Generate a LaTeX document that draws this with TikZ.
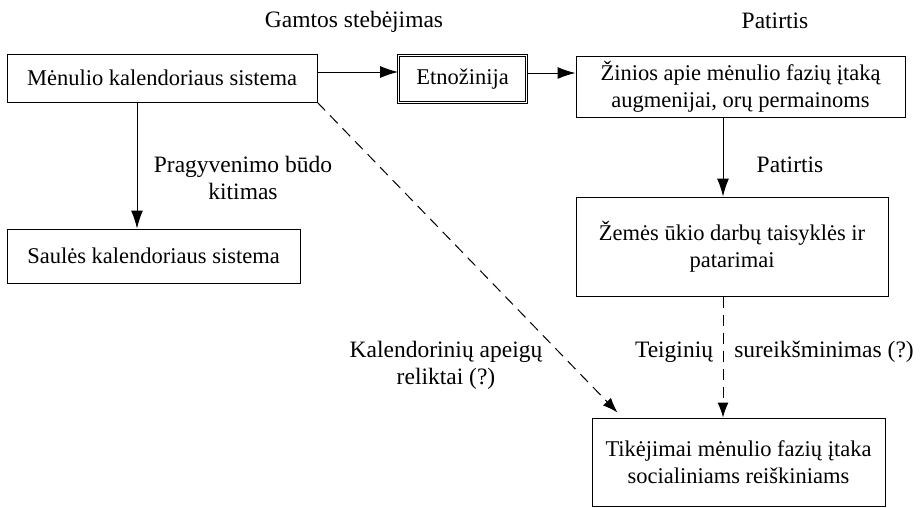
\documentclass[tikz,border=0pt]{standalone}
\usepackage{fontspec}
\setmainfont{Liberation Serif}
\usetikzlibrary{arrows.meta}

\begin{document}
\begin{tikzpicture}[x=1pt, y=-1pt]
\useasboundingbox (0,0) rectangle (924,507);

\tikzset{BoxStyle/.style = {draw, line width=1pt, align=center,
 font=\fontsize{22.5}{27}\selectfont, inner sep=0pt} }
\tikzset{LabelStyle/.style = {align=center, font=\fontsize{23.5}{27}\selectfont} }
\tikzset{EdgeStyle/.style = {line width=1pt, -{Latex[length=18pt, width=12pt]}} }
\tikzset{DashStyle/.style = {line width=1pt, dash pattern=on 11pt off 7pt,
 -{Latex[length=15pt, width=11pt]}} }

\node[BoxStyle, minimum width=310pt, minimum height=48pt] (Men) at (162, 78) {Mėnulio kalendoriaus sistema};
\node[BoxStyle, double, line width=0.8pt, double distance=1.8pt, minimum width=128pt, minimum height=47pt] (Etno) at (462.5, 79) {Etnožinija};
\node[BoxStyle, minimum width=329pt, minimum height=61pt] (Zin) at (740.5, 86.5) {Žinios apie mėnulio fazių įtaką\\augmenijai, orų permainoms};
\node[BoxStyle, minimum width=293pt, minimum height=54pt] (Saul) at (153.5, 256) {Saulės kalendoriaus sistema};
\node[BoxStyle, minimum width=312pt, minimum height=99pt] (Zem) at (732, 246.5) {Žemės ūkio darbų taisyklės ir\\patarimai};
\node[BoxStyle, minimum width=293pt, minimum height=88pt] (Tik) at (738.5, 462) {Tikėjimai mėnulio fazių įtaka\\socialiniams reiškiniams};

\node[LabelStyle, anchor=base] (L1) at (354, 27) {Gamtos stebėjimas};
\node[LabelStyle, anchor=base] (L2) at (775, 28) {Patirtis};
\node[LabelStyle, anchor=base] (L3) at (790, 172) {Patirtis};
\node[LabelStyle] (L4) at (243, 178) {Pragyvenimo būdo\\kitimas};
\node[LabelStyle] (L5) at (446, 365.5) {Kalendorinių apeigų\\reliktai (?)};
\node[LabelStyle, anchor=base] (L6) at (674, 357) {Teiginių};
\node[LabelStyle, anchor=base] (L7) at (824, 357) {sureikšminimas (?)};

\draw[EdgeStyle] ([yshift=6pt]Men.east) -- ([yshift=6pt]Men.east -| Etno.west);
\draw[EdgeStyle] ([yshift=6pt]Etno.east) -- ([yshift=6pt]Etno.east -| Zin.west);
\draw[EdgeStyle] ([xshift=-25pt]Men.south) -- ([xshift=-25pt]Men.south |- Saul.north);
\draw[EdgeStyle] ([xshift=-9pt]Zem.north |- Zin.south) -- ([xshift=-9pt]Zem.north);
\draw[DashStyle] ([xshift=-9pt]Zem.south) -- ([xshift=-9pt]Zem.south |- Tik.north);
\draw[DashStyle] (Men.south east) -- ([xshift=26pt, yshift=5pt]Tik.north west);

\end{tikzpicture}
\end{document}
